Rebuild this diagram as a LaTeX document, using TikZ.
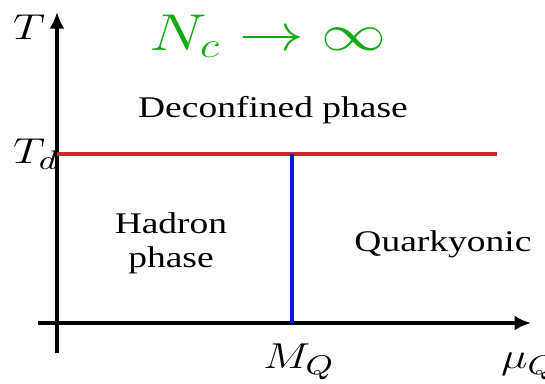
\documentclass[tikz,border=0pt]{standalone}
\usepackage{fontspec}
\setmainfont{Liberation Serif}
\usepackage{xcolor}
\usetikzlibrary{arrows.meta}
\definecolor{ncgreen}{RGB}{20,170,20}
\definecolor{tdred}{RGB}{210,35,40}
\definecolor{mqblue}{RGB}{20,20,225}

\begin{document}
\begin{tikzpicture}[x=0.3333pt, y=-0.3333pt,
    axis/.style={line width=1.1pt, -{Latex[length=5.5pt, width=5pt]}},
    phase/.style={font=\fontsize{10}{11.3}\selectfont, xscale=1.25, align=center, inner sep=0pt, anchor=base},
    lbl/.style={font=\fontsize{12.6}{14}\selectfont, xscale=1.25, inner sep=0pt, anchor=base}]
  \useasboundingbox (0,0) rectangle (545,383);
  % Axes:
  \coordinate (Ybot) at (57,353);
  \coordinate (Ytop) at (57,12);
  \coordinate (Xleft) at (38,323);
  \coordinate (Xright) at (531,323);
  \draw[axis] (Ybot) -- (Ytop);
  \draw[axis] (Xleft) -- (Xright);
  % Phase boundaries:
  \coordinate (Td) at (57,154);
  \coordinate (TdEnd) at (497,154);
  \coordinate (MQtop) at (292,154);
  \coordinate (MQbot) at (292,323);
  \draw[tdred, line width=1.15pt] (Td) -- (TdEnd);
  \draw[mqblue, line width=1.15pt] (MQtop) -- (MQbot);
  % Labels:
  \node[lbl] (Tlabel) at (29,39) {$T$};
  \node[lbl] (TdLabel) at (36,163) {$T_d$};
  \node[lbl] (MQlabel) at (299,368) {$M_Q$};
  \node[lbl] (muQlabel) at (529,368) {$\mu_Q$};
  \node[lbl, font=\fontsize{16.5}{19}\selectfont, text=ncgreen] (Nc) at (268,50) {$N_c \to \infty$};
  \node[phase] (deconf) at (273,117) {Deconfined phase};
  \node[phase] (hadron) at (171,267) {Hadron\\phase};
  \node[phase] (quark) at (443,251) {Quarkyonic};
\end{tikzpicture}
\end{document}
